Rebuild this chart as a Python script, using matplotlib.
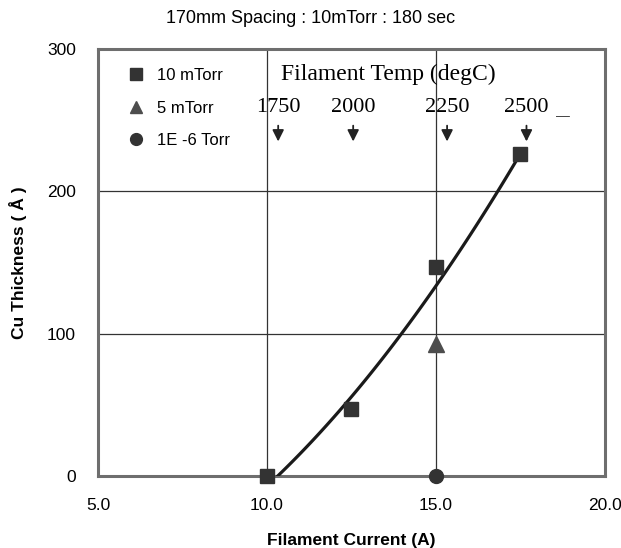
import numpy as np
import matplotlib.pyplot as plt

# measured points
x_10mtorr = [10.0, 12.5, 15.0, 17.5]
y_10mtorr = [0, 47, 147, 226]
x_5mtorr = [15.0]
y_5mtorr = [93]
x_vac = [15.0]
y_vac = [0]

# trend line
fit_x = [10.3, 11.0, 12.0, 12.5, 13.0, 14.0, 15.0, 16.0, 17.0, 17.5]
fit_y = [0, 17, 42, 55, 69, 100, 135, 170, 207, 225]

# filament temperature markers
temp_labels = ["1750", "2000", "2250", "2500"]
temp_x = [10.33, 12.55, 15.33, 17.68]

plt.rcParams['font.family'] = ['Liberation Sans', 'DejaVu Sans']

fig = plt.figure(figsize=(6.21, 5.48), dpi=100)
ax = fig.add_axes([0.158, 0.131, 0.816, 0.780])

# smooth the read trend line (2nd order)
coef = np.polyfit(fit_x, fit_y, 2)
xs = np.linspace(fit_x[0], fit_x[-1], 100)
ax.plot(xs, np.polyval(coef, xs), color='#1a1a1a', lw=2.3, zorder=3)

mk = '#333333'
ax.plot(x_10mtorr, y_10mtorr, 's', color=mk, ms=10, ls='none', label='10 mTorr', zorder=4, clip_on=False)
ax.plot(x_5mtorr, y_5mtorr, '^', color='#4d4d4d', ms=11, ls='none', label='5 mTorr', zorder=4)
ax.plot(x_vac, y_vac, 'o', color=mk, ms=10, ls='none', label='1E -6 Torr', zorder=4, clip_on=False)

ax.set_xlim(5, 20)
ax.set_ylim(0, 300)
ax.set_xticks([5, 10, 15, 20])
ax.set_xticklabels(["5.0", "10.0", "15.0", "20.0"])
ax.set_yticks([0, 100, 200, 300])
ax.tick_params(length=0, labelsize=12.5, pad=16)
ax.grid(color='#333333', lw=0.9)
for s in ax.spines.values():
    s.set_color('#6e6e6e')
    s.set_linewidth(2.2)

ax.set_xlabel("Filament Current (A)", fontsize=12.5, fontweight='bold', labelpad=14)
ax.set_ylabel("Cu Thickness ( Å )", fontsize=12.5, fontweight='bold', labelpad=14)
fig.text(0.5, 0.966, "170mm Spacing : 10mTorr : 180 sec", ha='center', va='center', fontsize=13)

serif = ['Liberation Serif', 'DejaVu Serif']
ax.text(13.6, 282, "Filament Temp (degC)", family=serif, fontsize=17, ha='center', va='center')
for lab, xt in zip(temp_labels, temp_x):
    ax.text(xt, 259, lab, family=serif, fontsize=16, ha='center', va='center')
    ax.annotate('', xy=(xt, 233), xytext=(xt, 248),
                arrowprops=dict(arrowstyle='-|>', color='#222222', lw=1.3, mutation_scale=17))
ax.text(18.75, 253, "—", fontsize=10, ha='center', va='center', color='#444444')

leg = ax.legend(loc='upper left', frameon=False, fontsize=12, handletextpad=0.75,
                labelspacing=1.05, borderaxespad=0.0, handlelength=1.0, markerscale=0.85,
                bbox_to_anchor=(0.045, 0.97))

fig.savefig("out.png", dpi=100)
